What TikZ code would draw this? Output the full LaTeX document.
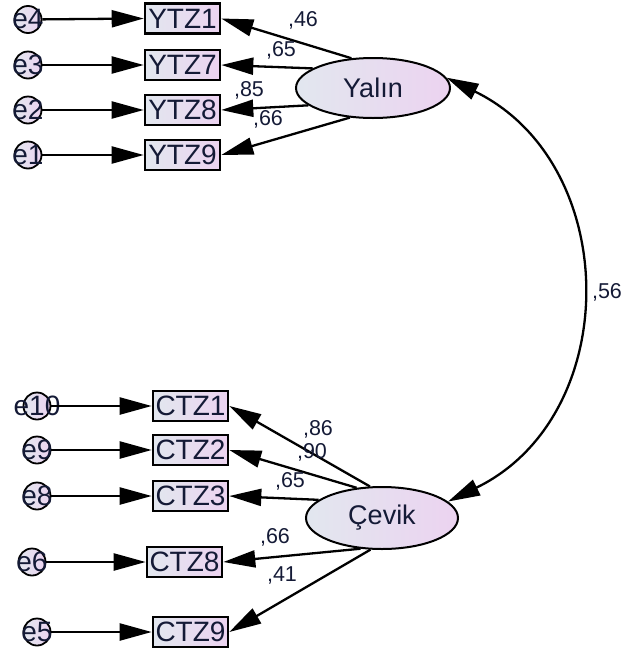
\documentclass[tikz,border=0pt]{standalone}
\usepackage{fontspec}
\setmainfont{Liberation Sans}
\usetikzlibrary{arrows.meta,shapes.geometric}

\definecolor{ink}{HTML}{141A36}
\definecolor{fillL}{HTML}{E2E7EF}
\definecolor{fillR}{HTML}{ECD3F0}

\tikzset{
  obs/.style={draw=black, line width=2.6pt, minimum width=75pt, minimum height=30pt,
    inner sep=0pt, left color=fillL, right color=fillR, text=ink,
    font=\fontsize{28}{30}\selectfont},
  lat/.style={ellipse, draw=black, line width=2pt, inner sep=0pt,
    left color=fillL, right color=fillR, text=ink,
    font=\fontsize{27}{30}\selectfont},
  err/.style={circle, draw=black, line width=1.8pt, minimum size=27pt, inner sep=0pt,
    left color=fillL, right color=fillR, text=ink,
    font=\fontsize{28}{30}\selectfont},
  load/.style={line width=2.3pt, -{Triangle[length=32pt,width=17pt]}},
  twoway/.style={line width=2.3pt,
    {Triangle[length=32pt,width=17pt]}-{Triangle[length=32pt,width=17pt]}},
  coef/.style={text=ink, font=\fontsize{21.5}{24}\selectfont, inner sep=0pt},
}

\begin{document}
\begin{tikzpicture}[x=1pt,y=1pt]
\useasboundingbox (0,0) rectangle (622,-654);

% --- Yalın block ---
\node[lat, minimum width=154pt, minimum height=60pt] (Y) at (373,-88) {Yalın};
\node[obs] (YTZ1) at (182.5,-18.5) {YTZ1};
\node[obs] (YTZ7) at (182.5,-65) {YTZ7};
\node[obs] (YTZ8) at (182.5,-110) {YTZ8};
\node[obs] (YTZ9) at (182.5,-155) {YTZ9};
\node[err] (e4) at (28,-19.5) {\makebox[0pt]{e4}};
\node[err] (e3) at (28,-65) {\makebox[0pt]{e3}};
\node[err] (e2) at (28,-110) {\makebox[0pt]{e2}};
\node[err] (e1) at (28,-155) {\makebox[0pt]{e1}};

% --- Çevik block ---
\node[lat, minimum width=152pt, minimum height=62pt] (C) at (382,-518) {Çevik};
\node[obs] (CTZ1) at (190.5,-406) {CTZ1};
\node[obs] (CTZ2) at (190.5,-450) {CTZ2};
\node[obs] (CTZ3) at (190.5,-496) {CTZ3};
\node[obs] (CTZ8) at (184.5,-562) {CTZ8};
\node[obs] (CTZ9) at (190.5,-632) {CTZ9};
\node[err] (e10) at (37,-406) {\makebox[0pt]{e10}};
\node[err] (e9) at (37,-450) {\makebox[0pt]{e9}};
\node[err] (e8) at (37,-496) {\makebox[0pt]{e8}};
\node[err] (e6) at (32,-562) {\makebox[0pt]{e6}};
\node[err] (e5) at (37,-632) {\makebox[0pt]{e5}};

% error terms into indicators
\foreach \e/\v in {e4/YTZ1,e3/YTZ7,e2/YTZ8,e1/YTZ9,e10/CTZ1,e9/CTZ2,e8/CTZ3,e6/CTZ8,e5/CTZ9}
  \draw[load] (\e) -- (\v.west);

% factor loadings
\draw[load] (Y.126) -- (YTZ1.east);
\draw[load] (Y.162) -- (YTZ7.east);
\draw[load] (Y.195) -- (YTZ8.east);
\draw[load] (Y.232) -- (YTZ9.east);
\draw[load] (C.111) -- (CTZ1.east);
\draw[load] (C.130) -- (CTZ2.east);
\draw[load] (C.164) -- (CTZ3.east);
\draw[load] (C.235) -- (CTZ8.east);
\draw[load] (C.250) -- (CTZ9.east);

% covariance between the factors
\draw[twoway] (Y.8) to[out=-26,in=26,looseness=1.18] (C.14);

% coefficients
\node[coef] (l46) at (303,-20) {,46};
\node[coef] (l65a) at (281,-50) {,65};
\node[coef] (l85) at (249,-90) {,85};
\node[coef] (l66a) at (268,-119) {,66};
\node[coef] (l86) at (318,-429) {,86};
\node[coef] (l90) at (312,-452) {,90};
\node[coef] (l65b) at (290,-481) {,65};
\node[coef] (l66b) at (275,-537) {,66};
\node[coef] (l41) at (282,-575) {,41};
\node[coef] (l56) at (607,-292) {,56};
\end{tikzpicture}
\end{document}
